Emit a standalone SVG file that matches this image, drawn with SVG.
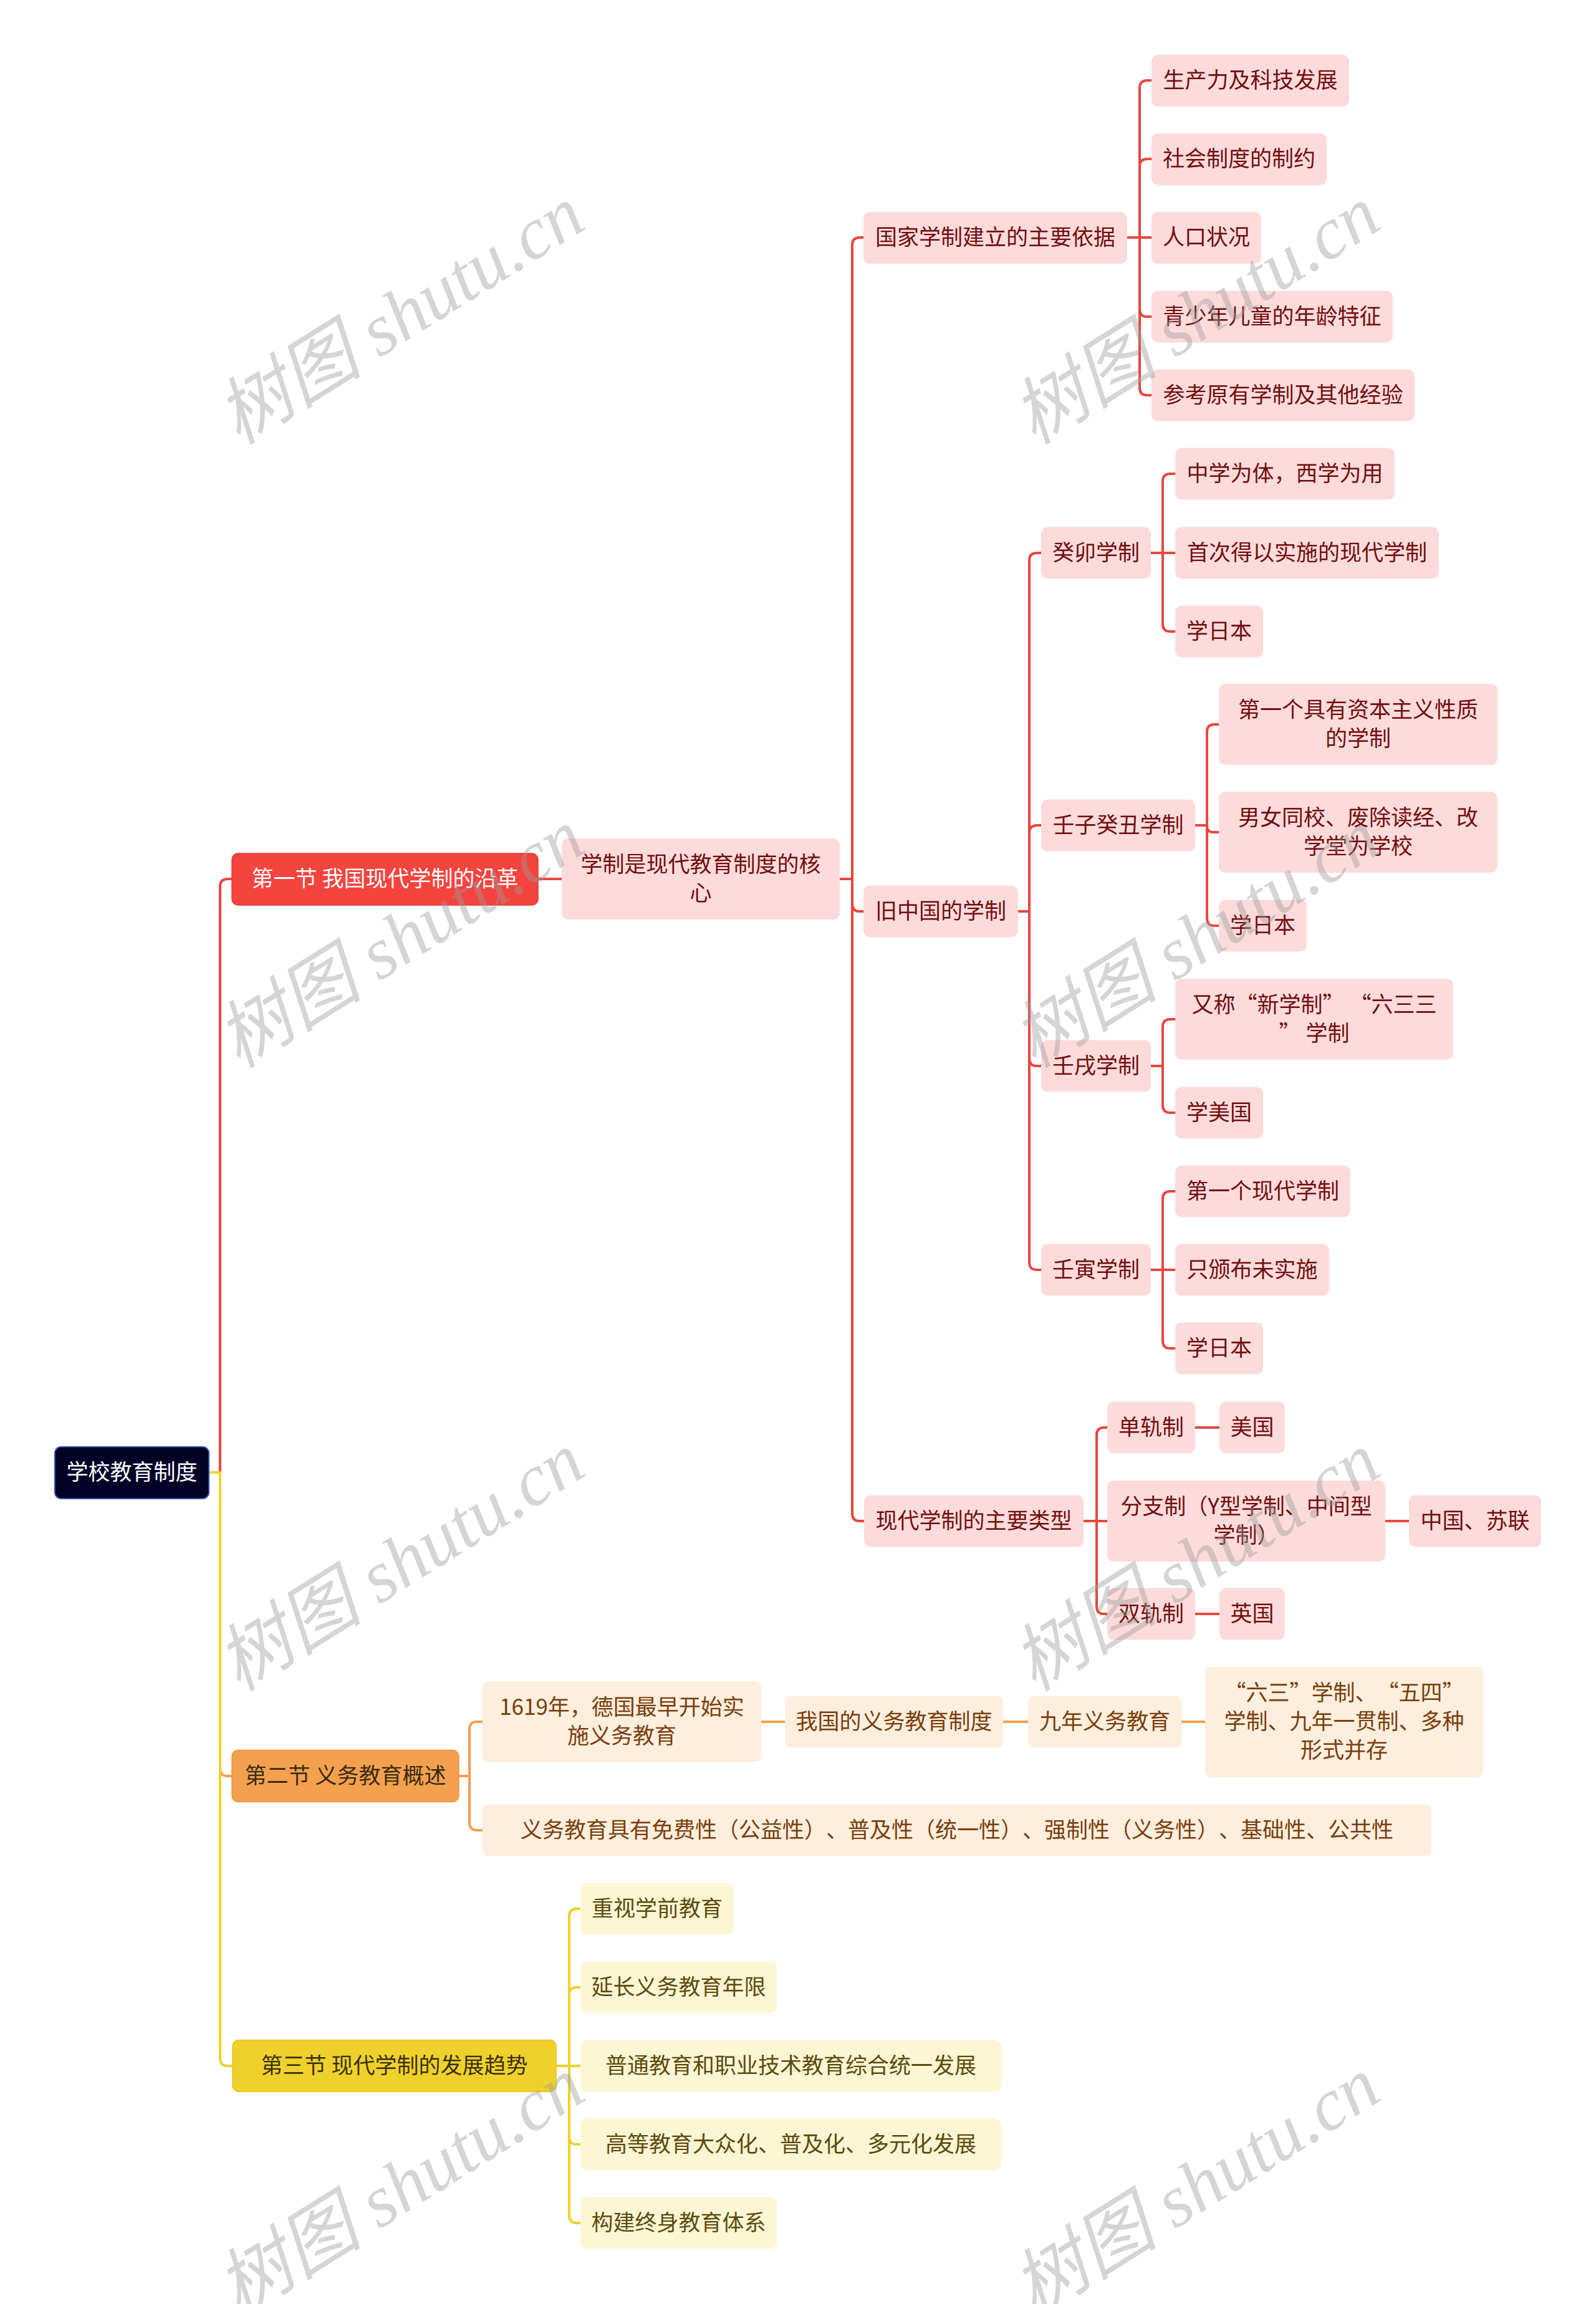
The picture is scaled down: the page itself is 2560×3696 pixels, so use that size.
<svg xmlns="http://www.w3.org/2000/svg" width="2560" height="3696" viewBox="0 0 2560 3696">
<style>
text{font-family:"Noto Sans CJK SC","Noto Sans",sans-serif;font-size:35px;text-anchor:middle;text-spacing-trim:space-all}
.c path{fill:none;stroke-width:4;stroke-linecap:round;stroke-linejoin:round}
.cr path{stroke:#e8463f}
.co path{stroke:#f2a152}
.cy path{stroke:#efd12c}
.p rect{fill:#fddbdb}
.p text{fill:#720d0d}
.o rect{fill:#fdeede}
.o text{fill:#7a3d0b}
.y rect{fill:#fdf6d5}
.y text{fill:#5c4a0b}
.s1 rect{fill:#f5433e;stroke:#e03a35;stroke-width:1.5}
.s1 text{fill:#ffffff}
.s2 rect{fill:#f4a14f;stroke:#ec9444;stroke-width:1.5}
.s2 text{fill:#3a2a12}
.s3 rect{fill:#f0d12b;stroke:#e6c622;stroke-width:1.5}
.s3 text{fill:#3a3111}
.wm text{font-family:"Liberation Serif","Noto Sans CJK SC",serif;font-style:italic;font-size:118px;fill:#9a9a9a;fill-opacity:0.42}
</style>
<rect width="2560" height="3696" fill="#ffffff"/>
<g id="connectors" class="c">
<g class="cr">
<path d="M335,2362 H353 V1422 Q353,1410 365,1410 H372"/>
<path d="M863,1410 H901"/>
<path d="M1347,1410 H1367 V393 Q1367,381 1379,381 H1385"/>
<path d="M1347,1410 H1367 V1450 Q1367,1462 1379,1462 H1385"/>
<path d="M1347,1410 H1367 V2428 Q1367,2440 1379,2440 H1386"/>
<path d="M1808,381 H1828 V141 Q1828,129 1840,129 H1847"/>
<path d="M1808,381 H1828 V267 Q1828,255 1840,255 H1847"/>
<path d="M1808,381 H1847"/>
<path d="M1808,381 H1828 V496 Q1828,508 1840,508 H1847"/>
<path d="M1808,381 H1828 V622 Q1828,634 1840,634 H1847"/>
<path d="M1633,1462 H1651 V899 Q1651,887 1663,887 H1670"/>
<path d="M1633,1462 H1651 V1336 Q1651,1324 1663,1324 H1670"/>
<path d="M1633,1462 H1651 V1698 Q1651,1710 1663,1710 H1670"/>
<path d="M1633,1462 H1651 V2025 Q1651,2037 1663,2037 H1670"/>
<path d="M1846,887 H1865 V772 Q1865,760 1877,760 H1885"/>
<path d="M1846,887 H1885"/>
<path d="M1846,887 H1865 V1001 Q1865,1013 1877,1013 H1885"/>
<path d="M1917,1324 H1936 V1174 Q1936,1162 1948,1162 H1955"/>
<path d="M1917,1324 H1936 V1325 Q1936,1335 1946,1335 H1955"/>
<path d="M1917,1324 H1936 V1473 Q1936,1485 1948,1485 H1955"/>
<path d="M1846,1710 H1865 V1647 Q1865,1635 1877,1635 H1885"/>
<path d="M1846,1710 H1865 V1773 Q1865,1785 1877,1785 H1885"/>
<path d="M1846,2037 H1865 V1923 Q1865,1911 1877,1911 H1885"/>
<path d="M1846,2037 H1885"/>
<path d="M1846,2037 H1865 V2151 Q1865,2163 1877,2163 H1885"/>
<path d="M1738,2440 H1759 V2302 Q1759,2290 1771,2290 H1776"/>
<path d="M1738,2440 H1776"/>
<path d="M1738,2440 H1759 V2577 Q1759,2589 1771,2589 H1776"/>
<path d="M1917,2290 H1956"/>
<path d="M2222,2440 H2260"/>
<path d="M1917,2589 H1956"/>
</g>
<g class="co">
<path d="M335,2362 H353 V2837 Q353,2849 365,2849 H372"/>
<path d="M736,2849 H753 V2774 Q753,2762 765,2762 H774"/>
<path d="M736,2849 H753 V2924 Q753,2936 765,2936 H774"/>
<path d="M1221,2762 H1259"/>
<path d="M1609,2762 H1649"/>
<path d="M1895,2762 H1933"/>
</g>
<g class="cy">
<path d="M335,2362 H353 V3302 Q353,3314 365,3314 H373"/>
<path d="M892,3314 H913 V3074 Q913,3062 925,3062 H931"/>
<path d="M892,3314 H913 V3200 Q913,3188 925,3188 H931"/>
<path d="M892,3314 H931"/>
<path d="M892,3314 H913 V3428 Q913,3440 925,3440 H931"/>
<path d="M892,3314 H913 V3554 Q913,3566 925,3566 H931"/>
</g>
</g>
<g id="nodes">
<g id="n-root"><rect x="88" y="2321" width="247" height="83" rx="10" fill="#010126" stroke="#3050a8" stroke-width="2"/><text x="211.5" y="2374" fill="#ffffff">学校教育制度</text></g>
<g id="n-s1" class="s1"><rect x="372" y="1369" width="491" height="83" rx="10"/><text x="617.5" y="1422">第一节 我国现代学制的沿革</text></g>
<g id="n-core" class="p"><rect x="901" y="1345" width="446" height="130" rx="10"/><text x="1124" y="1399">学制是现代教育制度的核</text><text x="1124" y="1445">心</text></g>
<g id="n-basis" class="p"><rect x="1385" y="340" width="423" height="83" rx="10"/><text x="1596.5" y="393">国家学制建立的主要依据</text></g>
<g id="n-b1" class="p"><rect x="1847" y="88" width="317" height="83" rx="10"/><text x="2005.5" y="141">生产力及科技发展</text></g>
<g id="n-b2" class="p"><rect x="1847" y="214" width="281" height="83" rx="10"/><text x="1987.5" y="267">社会制度的制约</text></g>
<g id="n-b3" class="p"><rect x="1847" y="340" width="176" height="83" rx="10"/><text x="1935" y="393">人口状况</text></g>
<g id="n-b4" class="p"><rect x="1847" y="466.5" width="387" height="83" rx="10"/><text x="2040.5" y="520">青少年儿童的年龄特征</text></g>
<g id="n-b5" class="p"><rect x="1847" y="592.5" width="422" height="83" rx="10"/><text x="2058" y="646">参考原有学制及其他经验</text></g>
<g id="n-old" class="p"><rect x="1385" y="1420.5" width="248" height="83" rx="10"/><text x="1509" y="1474">旧中国的学制</text></g>
<g id="n-guimao" class="p"><rect x="1670" y="845.5" width="176" height="83" rx="10"/><text x="1758" y="899">癸卯学制</text></g>
<g id="n-gm1" class="p"><rect x="1885" y="718.5" width="352" height="83" rx="10"/><text x="2061" y="772">中学为体，西学为用</text></g>
<g id="n-gm2" class="p"><rect x="1885" y="845.5" width="423" height="83" rx="10"/><text x="2096.5" y="899">首次得以实施的现代学制</text></g>
<g id="n-gm3" class="p"><rect x="1885" y="971.5" width="141" height="83" rx="10"/><text x="1955.5" y="1025">学日本</text></g>
<g id="n-rz" class="p"><rect x="1670" y="1282.5" width="247" height="83" rx="10"/><text x="1793.5" y="1336">壬子癸丑学制</text></g>
<g id="n-rz1" class="p"><rect x="1955" y="1097" width="447" height="130" rx="10"/><text x="2178.5" y="1151">第一个具有资本主义性质</text><text x="2178.5" y="1197">的学制</text></g>
<g id="n-rz2" class="p"><rect x="1955" y="1270" width="447" height="130" rx="10"/><text x="2178.5" y="1324">男女同校、废除读经、改</text><text x="2178.5" y="1370">学堂为学校</text></g>
<g id="n-rz3" class="p"><rect x="1955" y="1443.5" width="141" height="83" rx="10"/><text x="2025.5" y="1497">学日本</text></g>
<g id="n-rx" class="p"><rect x="1670" y="1668.5" width="176" height="83" rx="10"/><text x="1758" y="1722">壬戌学制</text></g>
<g id="n-rx1" class="p"><rect x="1885" y="1570" width="446" height="130" rx="10"/><text x="2108" y="1624">又称“新学制” “六三三</text><text x="2108" y="1670">” 学制</text></g>
<g id="n-rx2" class="p"><rect x="1885" y="1743.5" width="141" height="83" rx="10"/><text x="1955.5" y="1797">学美国</text></g>
<g id="n-ry" class="p"><rect x="1670" y="1995.5" width="176" height="83" rx="10"/><text x="1758" y="2049">壬寅学制</text></g>
<g id="n-ry1" class="p"><rect x="1885" y="1869.5" width="281" height="83" rx="10"/><text x="2025.5" y="1923">第一个现代学制</text></g>
<g id="n-ry2" class="p"><rect x="1885" y="1995.5" width="247" height="83" rx="10"/><text x="2008.5" y="2049">只颁布未实施</text></g>
<g id="n-ry3" class="p"><rect x="1885" y="2121.5" width="141" height="83" rx="10"/><text x="1955.5" y="2175">学日本</text></g>
<g id="n-types" class="p"><rect x="1386" y="2398.5" width="352" height="83" rx="10"/><text x="1562" y="2452">现代学制的主要类型</text></g>
<g id="n-t1" class="p"><rect x="1776" y="2248.5" width="141" height="83" rx="10"/><text x="1846.5" y="2302">单轨制</text></g>
<g id="n-t1a" class="p"><rect x="1956" y="2248.5" width="105" height="83" rx="10"/><text x="2008.5" y="2302">美国</text></g>
<g id="n-t2" class="p"><rect x="1776" y="2375" width="446" height="130" rx="10"/><text x="1999" y="2429">分支制（Y型学制、中间型</text><text x="1999" y="2475">学制）</text></g>
<g id="n-t2a" class="p"><rect x="2260" y="2398.5" width="212" height="83" rx="10"/><text x="2366" y="2452">中国、苏联</text></g>
<g id="n-t3" class="p"><rect x="1776" y="2547.5" width="141" height="83" rx="10"/><text x="1846.5" y="2601">双轨制</text></g>
<g id="n-t3a" class="p"><rect x="1956" y="2547.5" width="105" height="83" rx="10"/><text x="2008.5" y="2601">英国</text></g>
<g id="n-s2" class="s2"><rect x="372" y="2807.5" width="364" height="83" rx="10"/><text x="554" y="2861">第二节 义务教育概述</text></g>
<g id="n-c1" class="o"><rect x="774" y="2697" width="447" height="130" rx="10"/><text x="997.5" y="2751">1619年，德国最早开始实</text><text x="997.5" y="2797">施义务教育</text></g>
<g id="n-c2" class="o"><rect x="1259" y="2720.5" width="350" height="83" rx="10"/><text x="1434" y="2774">我国的义务教育制度</text></g>
<g id="n-c3" class="o"><rect x="1649" y="2720.5" width="246" height="83" rx="10"/><text x="1772" y="2774">九年义务教育</text></g>
<g id="n-c4" class="o"><rect x="1933" y="2674" width="446" height="177" rx="10"/><text x="2156" y="2728">“六三”学制、“五四”</text><text x="2156" y="2774">学制、九年一贯制、多种</text><text x="2156" y="2820">形式并存</text></g>
<g id="n-c5" class="o"><rect x="774" y="2894.5" width="1522" height="83" rx="10"/><text x="1535" y="2948">义务教育具有免费性（公益性）、普及性（统一性）、强制性（义务性）、基础性、公共性</text></g>
<g id="n-s3" class="s3"><rect x="373" y="3272.5" width="519" height="83" rx="10"/><text x="632.5" y="3326">第三节 现代学制的发展趋势</text></g>
<g id="n-d1" class="y"><rect x="931" y="3020.5" width="246" height="83" rx="10"/><text x="1054" y="3074">重视学前教育</text></g>
<g id="n-d2" class="y"><rect x="931" y="3146.5" width="315" height="83" rx="10"/><text x="1088.5" y="3200">延长义务教育年限</text></g>
<g id="n-d3" class="y"><rect x="931" y="3272.5" width="675" height="83" rx="10"/><text x="1268.5" y="3326">普通教育和职业技术教育综合统一发展</text></g>
<g id="n-d4" class="y"><rect x="931" y="3398.5" width="675" height="83" rx="10"/><text x="1268.5" y="3452">高等教育大众化、普及化、多元化发展</text></g>
<g id="n-d5" class="y"><rect x="931" y="3524.5" width="315" height="83" rx="10"/><text x="1088.5" y="3578">构建终身教育体系</text></g>
</g>
<g id="watermark" class="wm">
<text x="645" y="545" transform="rotate(-32 645 510)">树图 shutu.cn</text>
<text x="1921" y="545" transform="rotate(-32 1921 510)">树图 shutu.cn</text>
<text x="645" y="1545" transform="rotate(-32 645 1510)">树图 shutu.cn</text>
<text x="1921" y="1545" transform="rotate(-32 1921 1510)">树图 shutu.cn</text>
<text x="645" y="2545" transform="rotate(-32 645 2510)">树图 shutu.cn</text>
<text x="1921" y="2545" transform="rotate(-32 1921 2510)">树图 shutu.cn</text>
<text x="645" y="3547" transform="rotate(-32 645 3512)">树图 shutu.cn</text>
<text x="1921" y="3547" transform="rotate(-32 1921 3512)">树图 shutu.cn</text>
</g>
</svg>
